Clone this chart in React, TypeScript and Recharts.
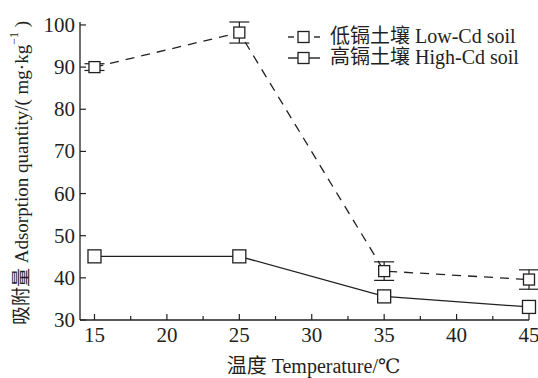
import React from 'react';
import { LineChart, Line, XAxis, YAxis, ErrorBar, Label } from 'recharts';

const temps = [15, 25, 35, 45];
const lowCd = [90, 98.2, 41.6, 39.6];
const lowCdErr = [0.8, 2.5, 2.2, 2.3];
const highCd = [45.1, 45.1, 35.6, 33.1];
const xTicks = [15, 17.5, 20, 22.5, 25, 27.5, 30, 32.5, 35, 37.5, 40, 42.5, 45];
const yTicks = [30, 40, 50, 60, 70, 80, 90, 100];

const INK = '#231f20';
const FONT = "'Liberation Serif', 'Times New Roman', 'DejaVu Serif', 'Noto Sans CJK SC', serif";

const data = temps.map((t, i) => ({
  temp: t,
  low: lowCd[i],
  lowErr: lowCdErr[i],
  high: highCd[i],
}));

const square = (size: number) => (props: any) => {
  const { cx, cy, index } = props;
  if (cx == null || cy == null) return <g key={`d-${index}`} />;
  return (
    <rect
      key={`sq-${size}-${index}`}
      x={cx - size / 2}
      y={cy - size / 2}
      width={size}
      height={size}
      fill="#fff"
      stroke={INK}
      strokeWidth={1.3}
    />
  );
};

const XTick = (props: any) => {
  const { x, y, payload } = props;
  const major = payload.value % 5 === 0;
  return (
    <g>
      <line x1={x} x2={x} y1={y} y2={y - (major ? 6 : 4)} stroke={INK} strokeWidth={1.2} />
      {major && (
        <text x={x} y={y + 22} textAnchor="middle" fontSize={21} fill={INK} style={{ fontFamily: FONT }}>
          {payload.value}
        </text>
      )}
    </g>
  );
};

const YTick = (props: any) => {
  const { x, y, payload } = props;
  return (
    <g>
      <line x1={x} x2={x + 6} y1={y} y2={y} stroke={INK} strokeWidth={1.2} />
      <text x={x - 5} y={y + 7} textAnchor="end" fontSize={21} fill={INK} style={{ fontFamily: FONT }}>
        {payload.value}
      </text>
    </g>
  );
};

const YTitle = (props: any) => {
  const vb = props.viewBox || { x: 0, y: 22, width: 80, height: 298 };
  const cx = 21;
  const cy = vb.y + vb.height / 2 + 2;
  return (
    <text
      x={cx}
      y={cy}
      transform={`rotate(-90, ${cx}, ${cy})`}
      textAnchor="middle"
      dominantBaseline="central"
      fontSize={19}
      fill={INK}
      style={{ fontFamily: FONT }}
    >
      吸附量 Adsorption quantity/( mg·kg
      <tspan fontSize={12} dy={-7}>−1</tspan>
      <tspan dy={7}> )</tspan>
    </text>
  );
};

const XTitle = (props: any) => {
  const vb = props.viewBox || { x: 80, y: 320, width: 449, height: 30 };
  return (
    <text
      x={vb.x + vb.width / 2 + 9}
      y={373}
      textAnchor="middle"
      fontSize={20}
      fill={INK}
      style={{ fontFamily: FONT }}
    >
      温度 Temperature/℃
    </text>
  );
};

const LegendIcon = ({ dashed }: { dashed: boolean }) => (
  <svg width={34} height={14} style={{ marginRight: 9 }}>
    {dashed ? (
      <>
        <line x1={1} x2={7} y1={7} y2={7} stroke={INK} strokeWidth={1.4} />
        <line x1={27} x2={33} y1={7} y2={7} stroke={INK} strokeWidth={1.4} />
      </>
    ) : (
      <line x1={1} x2={33} y1={7} y2={7} stroke={INK} strokeWidth={1.4} />
    )}
    <rect x={11} y={1.5} width={11} height={11} fill="#fff" stroke={INK} strokeWidth={1.3} />
  </svg>
);

export default function App() {
  return (
    <div style={{ position: 'absolute', left: 0, top: 0, width: 538, height: 378, background: '#fff' }}>
      <LineChart width={538} height={378} data={data} margin={{ top: 22, right: 9, left: 0, bottom: 28 }}>
        <XAxis
          dataKey="temp"
          type="number"
          domain={[14, 45]}
          ticks={xTicks}
          interval={0}
          tick={<XTick />}
          tickLine={false}
          tickSize={0}
          tickMargin={0}
          height={30}
          axisLine={{ stroke: INK, strokeWidth: 1.3 }}
        >
          <Label content={<XTitle />} />
        </XAxis>
        <YAxis
          type="number"
          domain={[30, 100]}
          ticks={yTicks}
          interval={0}
          tick={<YTick />}
          tickLine={false}
          tickSize={0}
          tickMargin={0}
          width={80}
          axisLine={{ stroke: INK, strokeWidth: 1.3 }}
        >
          <Label content={<YTitle />} />
        </YAxis>
        <Line
          dataKey="low"
          stroke={INK}
          strokeWidth={1.3}
          strokeDasharray="9 7"
          dot={square(11)}
          isAnimationActive={false}
        >
          <ErrorBar dataKey="lowErr" direction="y" width={10} stroke={INK} strokeWidth={1.2} />
        </Line>
        <Line
          dataKey="high"
          stroke={INK}
          strokeWidth={1.3}
          dot={square(13)}
          isAnimationActive={false}
        />
      </LineChart>
      <div
        style={{
          position: 'absolute',
          left: 287,
          top: 26,
          fontFamily: FONT,
          fontSize: 20,
          color: INK,
          lineHeight: '21px',
        }}
      >
        <div style={{ display: 'flex', alignItems: 'center' }}>
          <LegendIcon dashed />
          <span>低镉土壤 Low-Cd soil</span>
        </div>
        <div style={{ display: 'flex', alignItems: 'center' }}>
          <LegendIcon dashed={false} />
          <span>高镉土壤 High-Cd soil</span>
        </div>
      </div>
    </div>
  );
}
